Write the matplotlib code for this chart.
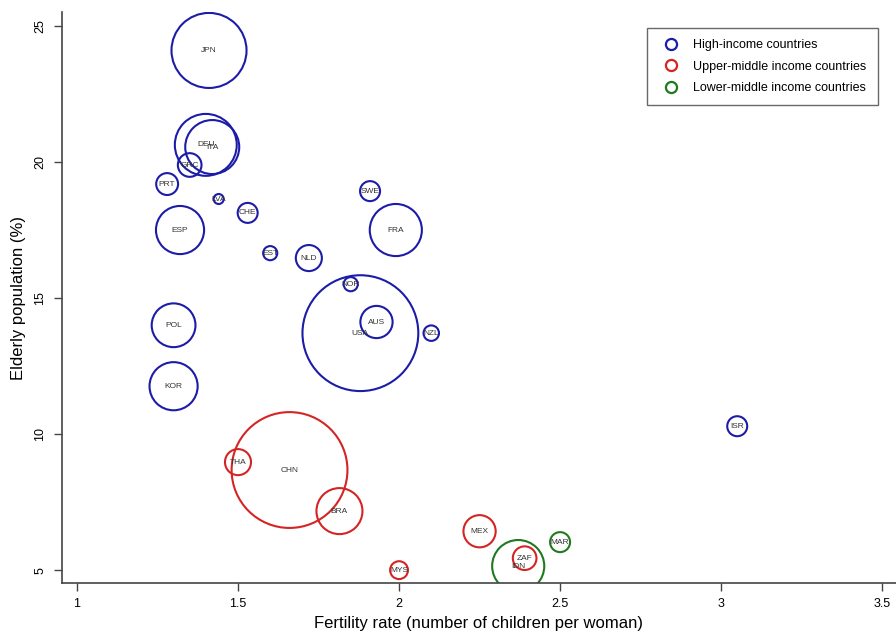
import matplotlib
matplotlib.use('Agg')
import matplotlib.pyplot as plt
from matplotlib.lines import Line2D

plt.rcParams['font.family'] = ['Liberation Sans', 'DejaVu Sans']

# country codes, fertility rate, elderly share (%), bubble weight, income group
codes = ['JPN', 'DEU', 'ITA', 'GRC', 'PRT', 'LVA', 'CHE', 'ESP', 'SWE', 'FRA',
         'EST', 'NLD', 'NOR', 'USA', 'AUS', 'NZL', 'POL', 'KOR', 'ISR',
         'THA', 'CHN', 'BRA', 'MEX', 'MYS', 'ZAF',
         'IDN', 'MAR']
fertility = [1.41, 1.40, 1.42, 1.35, 1.28, 1.44, 1.53, 1.32, 1.91, 1.99,
             1.60, 1.72, 1.85, 1.88, 1.93, 2.10, 1.30, 1.30, 3.05,
             1.50, 1.66, 1.815, 2.25, 2.00, 2.39,
             2.37, 2.50]
elderly = [24.1, 20.63, 20.55, 19.89, 19.19, 18.64, 18.13, 17.5, 18.93, 17.5,
           16.65, 16.47, 15.51, 13.71, 14.12, 13.71, 14.0, 11.76, 10.29,
           8.97, 8.68, 7.17, 6.43, 5.0, 5.44,
           5.15, 6.03]
weight = [141, 96, 73, 14, 12, 2.5, 10, 58, 10, 68,
          5, 17, 5, 336, 26, 6, 48, 58, 10,
          17, 336, 53, 26, 8, 14,
          68, 10]
group = ['H'] * 19 + ['U'] * 6 + ['L'] * 2

group_names = {'H': 'High-income countries',
               'U': 'Upper-middle income countries',
               'L': 'Lower-middle income countries'}
group_colors = {'H': '#1c1ca8', 'U': '#d42424', 'L': '#1f7a1f'}

fig = plt.figure(figsize=(8.96, 6.36), dpi=100)
ax = fig.add_axes([0.069, 0.083, 0.931, 0.898])

for g in ['H', 'U', 'L']:
    xs = [fertility[i] for i in range(len(codes)) if group[i] == g]
    ys = [elderly[i] for i in range(len(codes)) if group[i] == g]
    ss = [weight[i] * 20.7 for i in range(len(codes)) if group[i] == g]
    ax.scatter(xs, ys, s=ss, facecolors='none', edgecolors=group_colors[g],
               linewidths=1.5, zorder=2)

for i, c in enumerate(codes):
    ax.text(fertility[i], elderly[i], c, fontsize=6, color='#333333',
            ha='center', va='center', zorder=3)

ax.set_xlim(0.953, 3.543)
ax.set_ylim(4.52, 25.51)
ax.set_xticks([1, 1.5, 2, 2.5, 3, 3.5])
ax.set_xticklabels(['1', '1.5', '2', '2.5', '3', '3.5'])
ax.set_yticks([5, 10, 15, 20, 25])
for lab in ax.get_yticklabels():
    lab.set_rotation(90)
    lab.set_va('center')
ax.tick_params(axis='both', direction='out', length=6, width=1,
               color='#444444', labelsize=9, pad=5)

for side in ['top', 'right']:
    ax.spines[side].set_visible(False)
for side in ['left', 'bottom']:
    ax.spines[side].set_color('#444444')
    ax.spines[side].set_linewidth(1.2)

ax.set_xlabel('Fertility rate (number of children per woman)', fontsize=12, labelpad=4)
ax.set_ylabel('Elderly population (%)', fontsize=12, labelpad=6)

handles = [Line2D([0], [0], marker='o', linestyle='none', markerfacecolor='none',
                  markeredgecolor=group_colors[g], markeredgewidth=1.6, markersize=8)
           for g in ['H', 'U', 'L']]
leg = ax.legend(handles, [group_names[g] for g in ['H', 'U', 'L']],
                loc='upper right', bbox_to_anchor=(0.978, 0.972), fontsize=9,
                fancybox=False, frameon=True, borderpad=0.9, labelspacing=0.75,
                handletextpad=0.8, borderaxespad=0)
leg.get_frame().set_edgecolor('#444444')
leg.get_frame().set_linewidth(1)

fig.savefig('out.png', dpi=100)
